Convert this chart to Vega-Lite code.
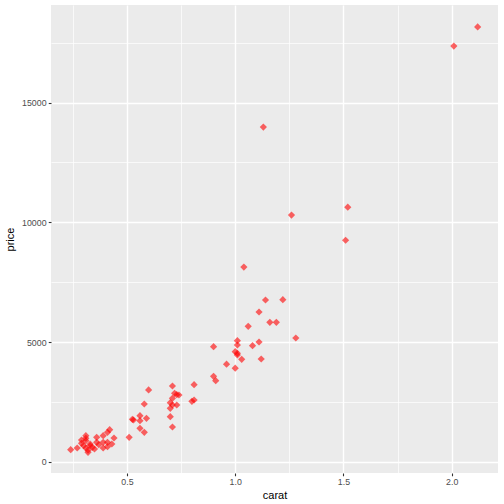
{
  "$schema": "https://vega.github.io/schema/vega-lite/v6.json",
  "width": 447,
  "height": 468,
  "autosize": {"type": "none"},
  "padding": {"left": 51, "top": 5, "right": 6, "bottom": 31},
  "background": "white",
  "view": {"fill": "#EBEBEB", "stroke": null},
  "data": {"values": [
    {"carat": 2.12, "price": 18160}, {"carat": 2.01, "price": 17360}, {"carat": 1.13, "price": 13980},
    {"carat": 1.26, "price": 10300}, {"carat": 1.52, "price": 10630}, {"carat": 1.51, "price": 9250},
    {"carat": 1.04, "price": 8130}, {"carat": 1.14, "price": 6755}, {"carat": 1.22, "price": 6767},
    {"carat": 1.11, "price": 6253}, {"carat": 1.16, "price": 5822}, {"carat": 1.19, "price": 5822},
    {"carat": 1.06, "price": 5655}, {"carat": 1.28, "price": 5167}, {"carat": 1.01, "price": 5055},
    {"carat": 1.11, "price": 5000}, {"carat": 1.08, "price": 4846}, {"carat": 0.9, "price": 4804},
    {"carat": 1.01, "price": 4875}, {"carat": 1.0, "price": 4595}, {"carat": 1.01, "price": 4528},
    {"carat": 1.01, "price": 4457}, {"carat": 1.03, "price": 4277}, {"carat": 1.12, "price": 4290},
    {"carat": 0.96, "price": 4075}, {"carat": 1.0, "price": 3905}, {"carat": 0.9, "price": 3567},
    {"carat": 0.91, "price": 3384}, {"carat": 0.71, "price": 3162}, {"carat": 0.81, "price": 3216},
    {"carat": 0.6, "price": 3000}, {"carat": 0.72, "price": 2857}, {"carat": 0.74, "price": 2786},
    {"carat": 0.73, "price": 2800}, {"carat": 0.71, "price": 2648}, {"carat": 0.7, "price": 2465},
    {"carat": 0.71, "price": 2368}, {"carat": 0.73, "price": 2368}, {"carat": 0.7, "price": 2230},
    {"carat": 0.8, "price": 2523}, {"carat": 0.81, "price": 2577}, {"carat": 0.7, "price": 1880},
    {"carat": 0.71, "price": 1450}, {"carat": 0.58, "price": 2410}, {"carat": 0.525, "price": 1771},
    {"carat": 0.53, "price": 1742}, {"carat": 0.56, "price": 1921}, {"carat": 0.56, "price": 1713},
    {"carat": 0.59, "price": 1813}, {"carat": 0.56, "price": 1395}, {"carat": 0.58, "price": 1228},
    {"carat": 0.51, "price": 1019}, {"carat": 0.24, "price": 501}, {"carat": 0.27, "price": 572},
    {"carat": 0.29, "price": 906}, {"carat": 0.31, "price": 1086}, {"carat": 0.31, "price": 877},
    {"carat": 0.3, "price": 668}, {"carat": 0.31, "price": 572}, {"carat": 0.32, "price": 393},
    {"carat": 0.33, "price": 668}, {"carat": 0.35, "price": 530}, {"carat": 0.36, "price": 1019},
    {"carat": 0.37, "price": 710}, {"carat": 0.39, "price": 810}, {"carat": 0.39, "price": 1086},
    {"carat": 0.41, "price": 1228}, {"carat": 0.42, "price": 1337}, {"carat": 0.41, "price": 810},
    {"carat": 0.41, "price": 627}, {"carat": 0.43, "price": 740}, {"carat": 0.44, "price": 990},
    {"carat": 0.39, "price": 572}, {"carat": 0.29, "price": 769}, {"carat": 0.33, "price": 740},
    {"carat": 0.36, "price": 810}, {"carat": 0.31, "price": 980}, {"carat": 0.32, "price": 480},
    {"carat": 0.34, "price": 600}
  ]},
  "mark": {"type": "point", "shape": "diamond", "filled": true, "size": 52, "color": "#FF0000", "opacity": 0.6, "strokeWidth": 0},
  "encoding": {
    "x": {
      "field": "carat", "type": "quantitative",
      "scale": {"domain": [0.149, 2.214], "nice": false, "zero": false},
      "axis": {
        "title": "carat",
        "values": [0.25, 0.5, 0.75, 1.0, 1.25, 1.5, 1.75, 2.0],
        "labelExpr": "(datum.value * 2) % 1 == 0 ? format(datum.value, '.1f') : ''",
        "gridColor": "white",
        "gridWidth": {"condition": {"test": "(datum.value * 2) % 1 != 0", "value": 0.7}, "value": 1.4},
        "tickOpacity": {"condition": {"test": "(datum.value * 2) % 1 != 0", "value": 0}, "value": 1},
        "domain": false,
        "tickColor": "#333333", "tickSize": 2.75, "tickWidth": 1.1,
        "labelColor": "#4D4D4D", "labelFont": "Liberation Sans", "labelFontSize": 8.8, "labelPadding": 2.2,
        "titleFont": "Liberation Sans", "titleFontSize": 11, "titleFontWeight": "normal", "titleColor": "black", "titlePadding": 3
      }
    },
    "y": {
      "field": "price", "type": "quantitative",
      "scale": {"domain": [-472, 19077], "nice": false, "zero": false},
      "axis": {
        "title": "price",
        "values": [0, 2500, 5000, 7500, 10000, 12500, 15000, 17500],
        "labelExpr": "datum.value % 5000 == 0 ? format(datum.value, 'd') : ''",
        "gridColor": "white",
        "gridWidth": {"condition": {"test": "datum.value % 5000 != 0", "value": 0.7}, "value": 1.4},
        "tickOpacity": {"condition": {"test": "datum.value % 5000 != 0", "value": 0}, "value": 1},
        "domain": false,
        "tickColor": "#333333", "tickSize": 2.75, "tickWidth": 1.1,
        "labelColor": "#4D4D4D", "labelFont": "Liberation Sans", "labelFontSize": 8.8, "labelPadding": 2.2,
        "titleFont": "Liberation Sans", "titleFontSize": 11, "titleFontWeight": "normal", "titleColor": "black", "titlePadding": 6
      }
    }
  }
}
